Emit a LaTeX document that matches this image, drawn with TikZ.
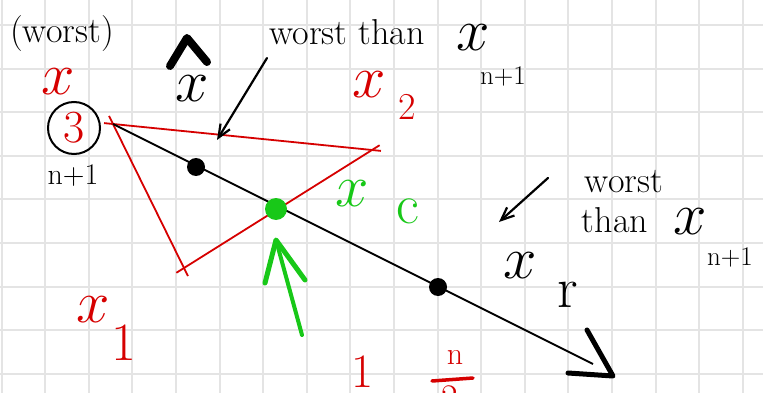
\documentclass[tikz,border=0pt]{standalone}
\usepackage{fix-cm}
\usetikzlibrary{arrows.meta}
\definecolor{hred}{RGB}{214,0,0}
\definecolor{hgreen}{RGB}{24,200,24}
\definecolor{gridc}{RGB}{228,228,228}
\tikzset{
  hw/.style={inner sep=0pt, font=\fontsize{36}{40}\selectfont},
  bx/.style={inner sep=0pt, font=\fontsize{60}{64}\selectfont},
  subs/.style={inner sep=0pt, font=\fontsize{27}{30}\selectfont},
  redline/.style={hred, line width=1.8pt, shorten <=-9pt, shorten >=-9pt},
  dotb/.style={circle, fill=black, inner sep=0pt, minimum size=18pt},
  dotg/.style={circle, fill=hgreen, inner sep=0pt, minimum size=22pt},
  gridline/.style={gridc, line width=2pt},
  pointer/.style={line width=2.2pt, line cap=round, -{Straight Barb[length=13pt,width=11pt]}},
  bighead/.style={line width=5pt, line cap=round, line join=round}
}
\begin{document}
\begin{tikzpicture}[x=1pt,y=-1pt]
\useasboundingbox (0,0) rectangle (763,393);
\clip (0,0) rectangle (763,393);
\fill[white] (0,0) rectangle (763,393);
\foreach \i in {0,...,17} \draw[gridline] ({1.5+43.6*\i},0) -- ++(0,393);
\foreach \j in {0,...,8} \draw[gridline] (0,{25+43.6*\j}) -- ++(763,0);

% simplex vertices
\coordinate (xn) at (113,124);
\coordinate (x2) at (372,150);
\coordinate (x1) at (184,268);
\coordinate (lineend) at (593,364);
\coordinate (tip) at (613,376);
\coordinate (barbA) at (587,330);
\coordinate (barbB) at (568,373);

\draw[redline] (xn) -- (x2);
\draw[redline] (xn) -- (x1);
\draw[redline] (x1) -- (x2);

% reflection line
\draw[line width=1.8pt] (xn) -- (lineend);
\draw[bighead] (barbA) -- (tip) -- (barbB);

\node[dotb] (dhat) at (196,167) {};
\node[dotb] (dr) at (438,287) {};
\node[dotg] (dc) at (276,209) {};

% labels top-left
\node[hw] (worstL) at (62,34) {(worst)};
\node[bx, text=hred] (xred) at (58,82) {$x$};
\node[circle, draw, line width=2pt, minimum size=52pt, inner sep=0pt, text=hred,
      font=\fontsize{46}{50}\selectfont] (three) at (74,128) {3};
\node[inner sep=0pt, font=\fontsize{30}{34}\selectfont] (np1) at (73,176) {n+1};

% x hat
\node[bx] (xhat) at (192,89) {$x$};
\coordinate (hatL) at (170,66);
\coordinate (hatT) at (187,38);
\coordinate (hatR) at (207,62);
\draw[line width=8pt, line join=round, line cap=round] (hatL) -- (hatT) -- (hatR);

% top annotation
\node[hw, anchor=base] (worstthan) at (347,45) {worst than};
\node[bx] (xtop) at (473,38) {$x$};
\node[subs] (ntop) at (503,76) {n+1};
\coordinate (pA) at (267,58);
\coordinate (pB) at (217,140);
\draw[pointer] (pA) -- (pB);

% x2
\node[bx, text=hred] (x2x) at (369,85) {$x$};
\node[inner sep=0pt, text=hred, font=\fontsize{38}{42}\selectfont] (x2s) at (407,107) {2};

% xc
\node[bx, text=hgreen] (xcx) at (352,194) {$x$};
\node[inner sep=0pt, text=hgreen, font=\fontsize{56}{60}\selectfont] (xcs) at (408,211) {c};
\coordinate (gA) at (302,335);
\coordinate (gT) at (276,240);
\coordinate (gL) at (265,283);
\coordinate (gR) at (305,280);
\draw[hgreen, line width=4pt, line cap=round] (gA) -- (gT);
\draw[hgreen, bighead] (gL) -- (gT) -- (gR);

% right annotation
\node[hw] (worstR) at (624,182) {worst};
\node[hw, anchor=base] (thanR) at (615,232) {than};
\node[bx] (xR) at (690,222) {$x$};
\node[subs] (nR) at (730,257) {n+1};
\coordinate (qA) at (548,178);
\coordinate (qB) at (499,222);
\draw[pointer] (qA) -- (qB);

% xr
\node[bx] (xrx) at (520,266) {$x$};
\node[inner sep=0pt, font=\fontsize{58}{62}\selectfont] (xrs) at (568,295) {r};

% x1
\node[bx, text=hred] (x1x) at (93,310) {$x$};
\node[inner sep=0pt, text=hred, font=\fontsize{54}{58}\selectfont] (x1s) at (124,343) {1};

% bottom (the fraction runs off the lower edge, as in the reference)
\node[inner sep=0pt, text=hred, font=\fontsize{48}{52}\selectfont, anchor=north] (one) at (363,356) {1};
\node[inner sep=0pt, text=hred, font=\fontsize{32}{36}\selectfont] (nfrac) at (455,357) {n};
\coordinate (barL) at (432,381);
\coordinate (barR) at (473,378);
\draw[hred, line width=3.5pt, line cap=round] (barL) -- (barR);
\node[inner sep=0pt, text=hred, font=\fontsize{36}{40}\selectfont, anchor=north] (two) at (450,386) {2};
\end{tikzpicture}
\end{document}
